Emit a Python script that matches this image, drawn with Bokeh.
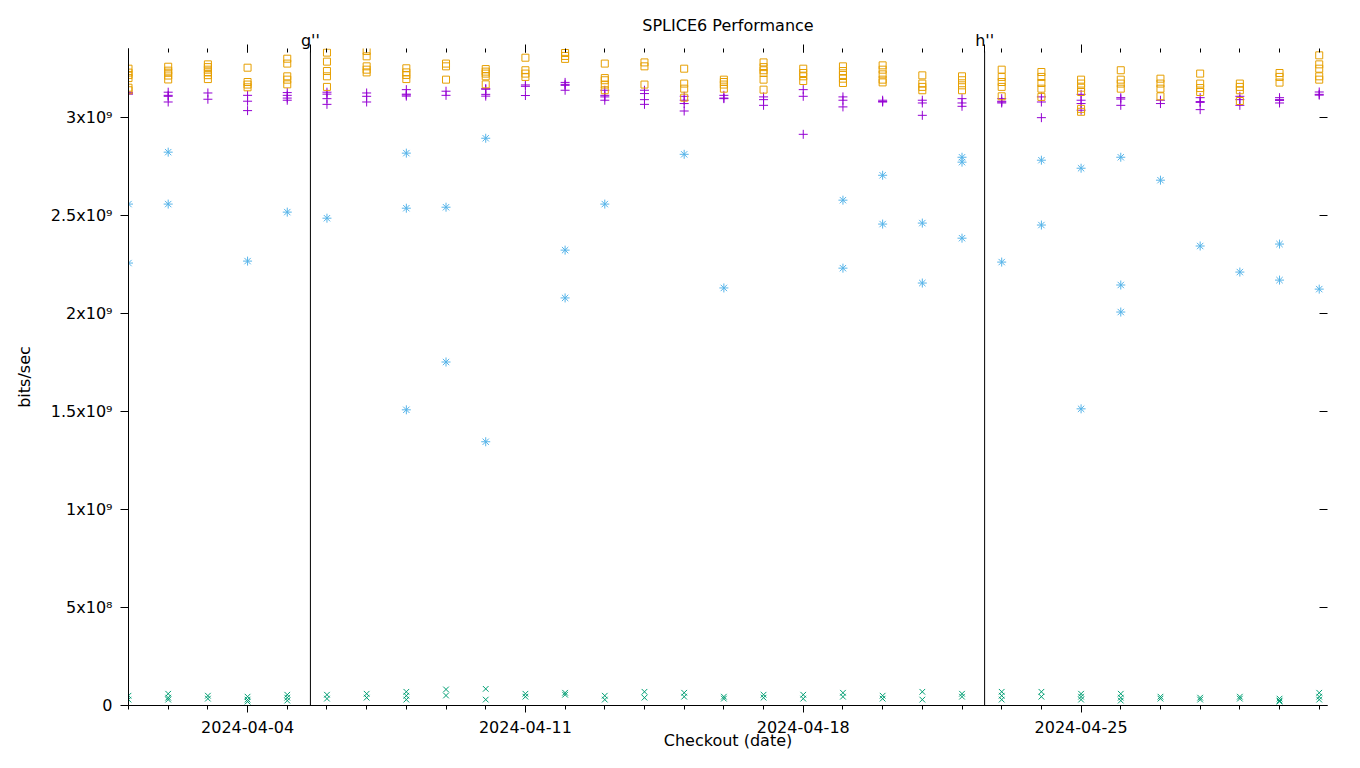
from datetime import datetime
import pandas as pd
from bokeh.plotting import figure
from bokeh.models import (Range1d, FixedTicker, DatetimeTickFormatter, CustomJSTickFormatter,
                          LinearAxis, DatetimeAxis, ColumnDataSource)
from bokeh.embed import file_html
from bokeh.resources import INLINE

FONT = "DejaVu Sans"
TITLE = "SPLICE6 Performance"

DATES = ["2024-04-01", "2024-04-02", "2024-04-03", "2024-04-04", "2024-04-05", "2024-04-06",
         "2024-04-07", "2024-04-08", "2024-04-09", "2024-04-10", "2024-04-11", "2024-04-12",
         "2024-04-13", "2024-04-14", "2024-04-15", "2024-04-16", "2024-04-17", "2024-04-18",
         "2024-04-19", "2024-04-20", "2024-04-21", "2024-04-22", "2024-04-23", "2024-04-24",
         "2024-04-25", "2024-04-26", "2024-04-27", "2024-04-28", "2024-04-29", "2024-04-30",
         "2024-05-01"]

# values in units of 1e9 bits/sec
PLUS = [[3.13, 3.125, 3.12], [3.13, 3.114, 3.109, 3.08], [3.126, 3.094], [3.114, 3.084, 3.036],
        [3.128, 3.114, 3.10, 3.089], [3.13, 3.12, 3.097, 3.068], [3.126, 3.109, 3.08],
        [3.143, 3.12, 3.116, 3.11], [3.135, 3.114], [3.148, 3.145, 3.119, 3.11],
        [3.167, 3.16, 3.113], [3.18, 3.17, 3.165, 3.14], [3.14, 3.114, 3.106, 3.089],
        [3.14, 3.123, 3.092, 3.068], [3.109, 3.089, 3.072, 3.034], [3.114, 3.10, 3.097],
        [3.106, 3.092, 3.063], [3.143, 3.109, 2.915], [3.106, 3.089, 3.055],
        [3.089, 3.082, 3.08], [3.089, 3.075, 3.012], [3.097, 3.075, 3.058],
        [3.097, 3.084, 3.08, 3.075], [3.106, 3.08, 3.0], [3.119, 3.089, 3.072, 3.038],
        [3.102, 3.095, 3.063], [3.089, 3.072], [3.102, 3.082, 3.078, 3.041],
        [3.109, 3.092, 3.063], [3.102, 3.092, 3.088, 3.075], [3.131, 3.119, 3.115]]

XMARKS = [[0.05, 0.03], [0.06, 0.04, 0.03], [0.05, 0.035], [0.045, 0.03, 0.02],
          [0.055, 0.04, 0.025], [0.055, 0.035], [0.06, 0.04], [0.07, 0.05, 0.03],
          [0.082, 0.051], [0.085, 0.03], [0.06, 0.045], [0.065, 0.055], [0.05, 0.03],
          [0.07, 0.04], [0.065, 0.045], [0.045, 0.035], [0.055, 0.04], [0.055, 0.035],
          [0.065, 0.045], [0.05, 0.035], [0.07, 0.03], [0.06, 0.045], [0.07, 0.05, 0.03],
          [0.07, 0.045], [0.06, 0.045, 0.03], [0.06, 0.04, 0.025], [0.045, 0.035],
          [0.04, 0.03], [0.045, 0.035], [0.035, 0.025, 0.02], [0.065, 0.045, 0.03]]

STARS = [[2.559, 2.258], [2.824, 2.559], [], [2.268], [2.518], [2.487], [],
         [2.819, 2.538, 1.509], [2.543, 1.753], [2.895, 1.346], [], [2.324, 2.08], [2.559],
         [], [2.813], [2.131], [], [], [2.579, 2.232], [2.706, 2.457], [2.462, 2.156],
         [2.798, 2.773, 2.385], [2.263], [2.783, 2.452], [2.742, 1.514],
         [2.798, 2.146, 2.008], [2.681], [2.345], [2.212], [2.355, 2.171], [2.125]]

SQUARES = [[3.25, 3.23, 3.218, 3.202, 3.153, 3.14], [3.26, 3.24, 3.23, 3.215, 3.195],
           [3.272, 3.258, 3.245, 3.231, 3.217, 3.197], [3.255, 3.182, 3.169, 3.155],
           [3.301, 3.276, 3.211, 3.194, 3.17], [3.332, 3.286, 3.238, 3.211, 3.157],
           [3.34, 3.313, 3.262, 3.245, 3.231], [3.252, 3.231, 3.218, 3.197],
           [3.276, 3.262, 3.194], [3.248, 3.235, 3.225, 3.211, 3.17],
           [3.306, 3.242, 3.225, 3.208], [3.33, 3.315, 3.30],
           [3.276, 3.202, 3.191, 3.169, 3.14], [3.282, 3.262, 3.169],
           [3.25, 3.174, 3.148, 3.102], [3.194, 3.182, 3.169, 3.148],
           [3.282, 3.258, 3.242, 3.228, 3.194, 3.143], [3.25, 3.228, 3.211, 3.187],
           [3.262, 3.238, 3.218, 3.199, 3.177], [3.267, 3.245, 3.221, 3.194, 3.18],
           [3.216, 3.174, 3.157, 3.14], [3.211, 3.191, 3.165, 3.14],
           [3.245, 3.208, 3.182, 3.157, 3.109], [3.233, 3.208, 3.177, 3.148, 3.106],
           [3.194, 3.174, 3.153, 3.131, 3.045, 3.03], [3.242, 3.194, 3.174, 3.148],
           [3.199, 3.174, 3.148, 3.109], [3.225, 3.174, 3.151, 3.131],
           [3.174, 3.157, 3.14, 3.085], [3.228, 3.208, 3.179],
           [3.318, 3.272, 3.25, 3.211, 3.194]]

EVENT_TIMES = ["2024-04-05 14:00", "2024-04-22 13:40"]
EVENT_NAMES = ["g''", "h''"]

Y_TICKS = [0, 5e8, 1e9, 1.5e9, 2e9, 2.5e9, 3e9]
Y_TICK_LABELS = ["0", "5x10\u2078", "1x10\u2079", "1.5x10\u2079", "2x10\u2079", "2.5x10\u2079", "3x10\u2079"]
X_MAJOR = ["2024-04-04", "2024-04-11", "2024-04-18", "2024-04-25"]

UNIT = 1e9


def flat(series):
    xs, ys = [], []
    for d, vals in zip(DATES, series):
        for v in vals:
            xs.append(pd.Timestamp(d))
            ys.append(v * UNIT)
    return ColumnDataSource(dict(x=xs, y=ys))


def ms(s):
    return pd.Timestamp(s).value / 1e6


p = figure(width=1344, height=752, x_axis_type="datetime", output_backend="svg",
           toolbar_location=None, title=None,
           x_range=Range1d(datetime(2024, 4, 1), datetime(2024, 5, 1, 5, 0)),
           y_range=Range1d(0, 3.353e9),
           min_border_left=128, min_border_right=17, min_border_top=48, min_border_bottom=46)
p.xgrid.visible = False
p.ygrid.visible = False
p.outline_line_color = None
p.background_fill_color = "white"

xticker = FixedTicker(ticks=[ms(d) for d in X_MAJOR], minor_ticks=[ms(d) for d in DATES])
xa = p.xaxis[0]
xa.ticker = xticker
xa.formatter = DatetimeTickFormatter(days="%Y-%m-%d", months="%Y-%m-%d", hours="%Y-%m-%d")
xa.axis_label = "Checkout (date)"
xa.major_tick_out = 7
xa.major_tick_in = 0
xa.minor_tick_out = 4
xa.minor_tick_in = 0
xa.major_label_standoff = 8
xa.axis_label_standoff = -5

ya = p.yaxis[0]
ya.ticker = FixedTicker(ticks=Y_TICKS, minor_ticks=[])
ya.formatter = CustomJSTickFormatter(args=dict(t=Y_TICKS, l=Y_TICK_LABELS), code="""
    for (let i = 0; i < t.length; i++) { if (Math.abs(t[i] - tick) < 1) return l[i]; }
    return '';
""")
ya.axis_label = "bits/sec"
ya.major_tick_out = 8
ya.major_tick_in = 0
ya.major_label_standoff = 8
ya.axis_label_standoff = 14

for ax in (xa, ya):
    ax.axis_line_color = "black"
    ax.major_tick_line_color = "black"
    ax.major_label_text_font = FONT
    ax.major_label_text_font_size = "16px"
    ax.major_label_text_color = "black"
    ax.axis_label_text_font = FONT
    ax.axis_label_text_font_size = "16px"
    ax.axis_label_text_font_style = "normal"
    ax.axis_label_text_color = "black"
xa.minor_tick_line_color = "black"
ya.minor_tick_line_color = None

# top axis: day ticks, event labels (g'', h'') and the chart title as axis label
ev_ms = [ms(t) for t in EVENT_TIMES]
top_ticker = FixedTicker(ticks=[ms(d) for d in X_MAJOR] + ev_ms, minor_ticks=[ms(d) for d in DATES])
top = DatetimeAxis(ticker=top_ticker,
                   formatter=CustomJSTickFormatter(args=dict(t=ev_ms, l=EVENT_NAMES), code="""
    for (let i = 0; i < t.length; i++) { if (Math.abs(t[i] - tick) < 1000) return l[i]; }
    return '';
"""),
                   axis_line_color=None,
                   major_tick_out=4, major_tick_in=4, minor_tick_out=0, minor_tick_in=4,
                   major_tick_line_color="black", minor_tick_line_color="black",
                   major_label_standoff=-5, major_label_text_font=FONT,
                   major_label_text_font_size="16px", major_label_text_color="black",
                   axis_label=TITLE, axis_label_standoff=-7, axis_label_text_font=FONT,
                   axis_label_text_font_size="16px", axis_label_text_font_style="normal",
                   axis_label_text_color="black")
p.add_layout(top, "above")

right = LinearAxis(ticker=FixedTicker(ticks=Y_TICKS, minor_ticks=[]),
                   formatter=CustomJSTickFormatter(code="return '';"),
                   axis_line_color=None, major_label_text_font_size="0px",
                   major_tick_out=0, major_tick_in=8, minor_tick_line_color=None,
                   major_tick_line_color="black", major_label_standoff=0)
p.add_layout(right, "right")

ev_x = [pd.Timestamp(t) for t in EVENT_TIMES]
p.segment(x0=ev_x, y0=[0] * len(ev_x), x1=ev_x, y1=[3.338e9] * len(ev_x),
          line_color="black", line_width=1)

p.scatter("x", "y", source=flat(PLUS), marker="cross", size=9, line_color="#9400D3", line_width=1)
p.scatter("x", "y", source=flat(XMARKS), marker="x", size=8, line_color="#009E73", line_width=1)
p.scatter("x", "y", source=flat(STARS), marker="asterisk", size=9, line_color="#56B4E9", line_width=1)
p.scatter("x", "y", source=flat(SQUARES), marker="square", size=7, fill_color=None,
          line_color="#E69F00", line_width=1)

open("out.html", "w").write(file_html(p, INLINE))
